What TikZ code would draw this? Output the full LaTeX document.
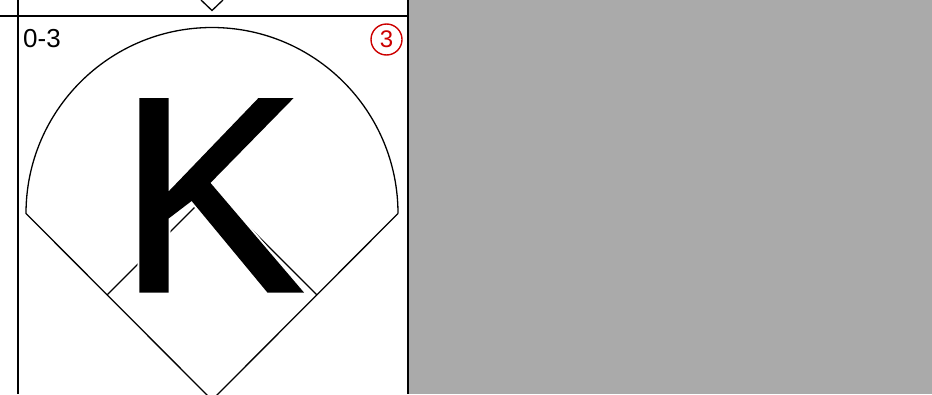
\documentclass[tikz,border=0pt]{standalone}
\usepackage{fontspec}
\setmainfont{Liberation Sans}
\newfontfamily\kfont[FakeBold=1.2]{Liberation Sans}
\usepackage{contour}
\usetikzlibrary{positioning}
\definecolor{scorered}{RGB}{204,0,0}
\definecolor{sidegray}{RGB}{170,170,170}

\begin{document}
\begin{tikzpicture}[x=1pt, y=-1pt, line join=miter,
    grid/.style={line width=1.6pt, draw=black},
    field/.style={line width=1.3pt, draw=black},
    count/.style={inner sep=0pt, font=\fontsize{26}{26}\selectfont},
    outno/.style={circle, draw=scorered, text=scorered, line width=1.4pt, inner sep=0pt, minimum size=31pt, font=\fontsize{24}{24}\selectfont},
    result/.style={inner sep=0pt, font=\kfont\fontsize{278}{278}\selectfont}]
    \useasboundingbox (0,0) rectangle (932,394);
    \fill[sidegray] (408,0) rectangle (932,394);

    % cell frame
    \coordinate (topL) at (0,16);
    \coordinate (topR) at (408,16);
    \coordinate (leftT) at (18,0);
    \coordinate (leftB) at (18,394);
    \coordinate (rightT) at (408,0);
    \coordinate (rightB) at (408,394);
    \draw[grid] (topL) -- (topR);
    \draw[grid] (leftT) -- (leftB);
    \draw[grid] (rightT) -- (rightB);

    % home plate of the cell above
    \coordinate (upL) at (201,0);
    \coordinate (upH) at (212,10.5);
    \coordinate (upR) at (223,0);
    \draw[field] (upL) -- (upH) -- (upR);

    % field
    \coordinate (home) at (212,400);
    \coordinate (first) at (317,295);
    \coordinate (second) at (212,190);
    \coordinate (third) at (107,295);
    \coordinate (leftF) at (26,213.5);
    \coordinate (rightF) at (398,213.5);
    \draw[field] (rightF) -- (home) -- (leftF)
        arc[start angle=180, end angle=360, radius=186];
    \draw[field] (third) -- (second) -- (first);

    % texts
    \node[count, anchor=base west] (cnt) at (23,47) {0-3};
    \node[outno] (out) at (386.5,39.5) {3};
    \contourlength{1.8pt}
    \contournumber{12}
    \node[result, anchor=base west] (res) at (118,291) {\contour{white}{K}};
\end{tikzpicture}
\end{document}
